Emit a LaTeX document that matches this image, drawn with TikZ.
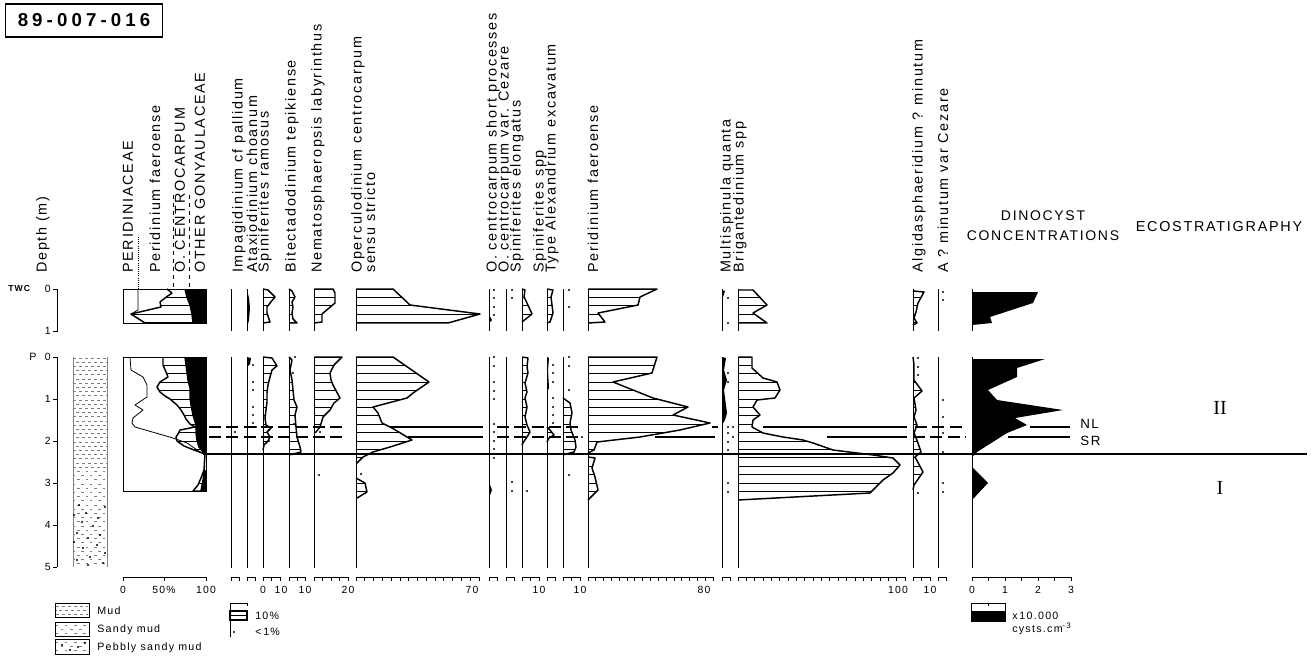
\documentclass[tikz,border=0pt]{standalone}
\usepackage{fontspec}
\setmainfont{Liberation Sans}
\newfontfamily\lab{Liberation Sans}[LetterSpace=12]
\newfontfamily\hdrfont{Liberation Sans}[LetterSpace=22]
\newfontfamily\romf{Liberation Serif}
\newcommand\hcol[2]{%
  \begin{scope}\clip #1 -- cycle;
    \foreach \k in {0,...,26} {\draw[hatch] (0,{#2+8.4*\k}) -- (1313,{#2+8.4*\k});}
  \end{scope}
  \draw[curv] #1;}
\newcommand\cystdots[1]{\foreach \px/\py in {#1} {\fill (\px,\py) circle (1.1);}}
\newcommand\xax[3]{\draw[axisl] (#1,577) -- (#2,577);
  \foreach \i in {0,...,#3} {\draw[axisl] ({#1+(#2-#1)*\i/#3},577) -- ++(0,3.5);}}
\tikzset{
  base/.style={line width=0.6pt},
  curv/.style={line width=1.1pt, line join=round},
  thinc/.style={line width=0.6pt, line join=round},
  hatch/.style={line width=0.5pt},
  axisl/.style={line width=0.6pt},
  lbl/.style={rotate=90, anchor=west, inner sep=0pt, font=\lab\fontsize{10.8}{12}\selectfont},
  num/.style={inner sep=0pt, font=\lab\fontsize{7.8}{9}\selectfont},
  txt/.style={inner sep=0pt, font=\lab\fontsize{8}{9.5}\selectfont},
  hsolid/.style={line width=1.5pt},
  hdash/.style={line width=1.5pt, dash pattern=on 9pt off 4pt},
  litho/.style={line width=0.5pt, gray},
}
\begin{document}
\begin{tikzpicture}[x=0.75pt,y=-0.75pt]
\useasboundingbox (0,0) rectangle (1313,660);
% header
\node[draw, line width=1.1pt, minimum width=118pt, minimum height=24.5pt, inner sep=0pt,
  font=\hdrfont\bfseries\fontsize{14}{16}\selectfont] (hdr) at (84,20.5) {89-007-016};
% column labels
\node[lbl] (ldepth) at (43,273) {Depth (m)};
\node[lbl] (l1) at (128,273) {PERIDINIACEAE};
\node[lbl] (l2) at (155,273) {Peridinium faeroense};
\node[lbl] (l3) at (180,273) {O. CENTROCARPUM};
\node[lbl] (l4) at (200,273) {OTHER GONYAULACEAE};
\draw[line width=0.6pt, densely dotted] (138,237) -- (138,289);
\draw[line width=0.6pt, dashed] (173,195) -- (173,289);
\draw[line width=0.6pt, dashed] (189,195) -- (189,289);
\node[lbl] (l5) at (239,273) {Impagidinium cf pallidum};
\node[lbl] (l6) at (252,273) {Ataxiodinium choanum};
\node[lbl] (l7) at (265,273) {Spiniferites ramosus};
\node[lbl] (l8) at (292,273) {Bitectadodinium tepikiense};
\node[lbl] (l9) at (318,273) {Nematosphaeropsis labyrinthus};
\node[lbl] (l10) at (358,273) {Operculodinium centrocarpum};
\node[lbl] (l10b) at (370,273) {sensu stricto};
\node[lbl] (l11) at (493,273) {O. centrocarpum short processes};
\node[lbl] (l12) at (505,273) {O. centrocarpum var. Cezare};
\node[lbl] (l13) at (517,273) {Spiniferites elongatus};
\node[lbl] (l14) at (540,273) {Spiniferites spp};
\node[lbl] (l15) at (552,273) {Type Alexandrium excavatum};
\node[lbl] (l16) at (593,273) {Peridinium faeroense};
\node[lbl] (l17) at (727,273) {Multispinula quanta};
\node[lbl] (l18) at (740,273) {Brigantedinium spp};
\node[lbl] (l19) at (919,273) {Algidasphaeridium ? minutum};
\node[lbl] (l20) at (943,273) {A ? minutum var Cezare};
\node[inner sep=0pt, align=center, font=\lab\fontsize{10.5}{15}\selectfont] (ldino) at (1043,226) {DINOCYST\\CONCENTRATIONS};
\node[inner sep=0pt, font=\lab\fontsize{10.8}{12}\selectfont] (leco) at (1219,227) {ECOSTRATIGRAPHY};
% depth axis
\node[inner sep=0pt, anchor=west, font=\lab\bfseries\fontsize{6.5}{8}\selectfont] (twc) at (8,289) {TWC};
\node[inner sep=0pt, anchor=west, font=\lab\fontsize{8}{9}\selectfont] (pp) at (29,357) {P};
\draw[axisl] (53,289) -- (57,289) -- (57,331) -- (53,331);
\node[num, anchor=east] (t0) at (51,289) {0};
\node[num, anchor=east] (t1) at (51,331) {1};
\draw[axisl] (57,357) -- (57,567);
\foreach \d in {0,...,5} {\draw[axisl] (53,{357+42*\d}) -- (57,{357+42*\d});
  \node[num, anchor=east] (pd\d) at (51,{357+42*\d}) {\d};}
% lithology
\draw[litho] (73,357) -- (73,567); \draw[litho] (107,357) -- (107,567);
\foreach \k [evaluate=\k as \ph using {mod(\k,2)*2.2}] in {0,...,26}
  {\draw[litho, dash pattern=on 2.5pt off 2pt, dash phase=\ph pt] (73,{358+4.2*\k}) -- (107,{358+4.2*\k});}
\foreach \k [evaluate=\k as \ph using {mod(\k,2)*3}] in {27,...,49}
  {\draw[litho, dash pattern=on 1.8pt off 4.5pt, dash phase=\ph pt] (73,{358+4.2*\k}) -- (107,{358+4.2*\k});}
\cystdots{79/505,105/507,86/513,74/515,98/518,82/522,93/526,77/533,100/535,88/538,74/542,97/545,83/548,105/553,90/557,77/560,103/563,88/565}
% ---- stacked percentage column ----
% TWC
\hcol{(167,289)--(172,293)--(165,298)--(160,302)--(161,307)--(131,314)--(145,323)--(193,323)--(192,314)--(190,305)--(187,297)--(185,289)}{289}
\fill (185,289)--(187,297)--(190,305)--(192,314)--(193,323)--(206,323)--(206,289)--cycle;
\draw[thinc] (138,289)--(138,310)--(131,314)--(145,323);
\draw[axisl] (123,289) rectangle (206,323);
% P
\hcol{(163,357)--(163,365)--(166,372)--(168,377)--(160,382)--(157,387)--(160,392)--(165,396)--(170,399)--(177,405)--(181,410)--(184,415)--(186,419)--(190,424)--(195,427)--(180,430)--(178,434)--(176,437)--(177,441)--(184,446)--(194,450)--(205,454)--(199,447)--(197,440)--(196,433)--(196,425)--(193,415)--(191,405)--(190,397)--(190,388)--(188,380)--(187,372)--(186,365)--(185,357)}{357}
\fill (185,357)--(186,365)--(187,372)--(188,380)--(190,388)--(190,397)--(191,405)--(193,415)--(196,425)--(196,433)--(197,440)--(199,447)--(205,454)--(206,454)--(206,357)--cycle;
\hcol{(205,454)--(204,470)--(201,478)--(198,485)--(193,491)--(201,491)--(203,480)--(205,470)}{357}
\fill (205,470)--(203,480)--(201,491)--(206,491)--(206,470)--cycle;
\draw[thinc] (130,357)--(131,370)--(143,377)--(147,385)--(147,397)--(135,405)--(143,410)--(133,418)--(132,423)--(135,427)--(173,438)--(187,443)--(200,452)--(206,454);
\draw[axisl] (123,357) rectangle (206,491);
% ---- baselines ----
\foreach \x in {231,247,263,289,314,356,489,506,522,547,563,588,722,738,913,938,972}
  {\draw[base] (\x,289) -- (\x,331); \draw[base] (\x,357) -- (\x,568);}
% Impagidinium
\cystdots{235/432}
% Ataxiodinium
\fill (247,290)--(249,298)--(250,308)--(249,320)--(247,328)--cycle;
\fill (247,357)--(251,358)--(250,364)--(247,367)--cycle;
\cystdots{253/365,253/382,253/390,253/407,253/415,253/423,256/427}
% Spiniferites ramosus
\hcol{(263,289)--(268,290)--(275,297)--(270,303)--(267,307)--(267,313)--(268,316)--(270,322)--(263,323)}{289}
\hcol{(263,357)--(272,358)--(277,366)--(272,370)--(270,377)--(268,385)--(267,393)--(267,402)--(266,410)--(265,418)--(266,425)--(271,428)--(267,432)--(270,437)--(268,441)--(264,445)--(263,450)}{357}
\cystdots{269/430,269/441}
% Bitectadodinium
\hcol{(289,289)--(292,291)--(295,297)--(292,302)--(293,307)--(292,313)--(293,319)--(297,323)--(289,323)}{289}
\hcol{(289,357)--(292,360)--(290,370)--(292,380)--(293,390)--(294,400)--(297,407)--(295,415)--(296,427)--(297,437)--(300,447)--(301,452)--(289,455)}{357}
\cystdots{295/357,293/373,294/424}
% Nematosphaeropsis
\hcol{(314,289)--(333,289)--(335,293)--(335,303)--(322,314)--(322,322)--(314,323)}{289}
\hcol{(314,357)--(342,357)--(334,365)--(330,373)--(331,380)--(333,385)--(340,398)--(334,403)--(330,410)--(323,417)--(320,427)--(316,432)--(314,433)}{357}
\cystdots{320/432,319/475}
% Operculodinium s.s.
\hcol{(356,289)--(393,289)--(410,305)--(480,314)--(448,323)--(356,323)}{289}
\hcol{(356,357)--(393,357)--(429,382)--(413,393)--(407,398)--(373,407)--(378,413)--(382,423)--(392,428)--(412,440)--(390,447)--(373,452)--(363,457)--(357,463)--(356,463)}{357}
\hcol{(356,478)--(365,483)--(367,492)--(357,498)--(356,498)}{357}
\cystdots{361/474}
% O. centrocarpum short processes
\cystdots{494/290,494/298,494/307,494/315}
\fill (489,315)--(492,320)--(489,323)--cycle;
\cystdots{494/357,494/366,494/382,494/391,494/399,494/424,494/432,494/441,494/449,494/458}
\fill (489,482)--(492,490)--(489,498)--cycle;
% var Cezare
\cystdots{512/290,512/298,512/482,512/491}
% Spiniferites elongatus
\hcol{(522,289)--(525,290)--(524,297)--(527,303)--(532,314)--(522,322)}{289}
\hcol{(522,357)--(528,358)--(527,367)--(528,373)--(525,383)--(527,392)--(525,398)--(527,407)--(525,417)--(527,425)--(530,432)--(527,437)--(523,443)--(522,445)}{357}
\cystdots{527/491}
% Spiniferites spp
\hcol{(547,289)--(553,290)--(551,297)--(552,305)--(553,313)--(550,322)--(547,323)}{289}
\fill (547,357)--(549,358)--(548,370)--(549,388)--(547,392)--cycle;
\cystdots{553/365,553/373,553/382,553/398,553/407,553/415,553/423}
\hcol{(547,427)--(550,430)--(554,435)--(549,438)--(547,442)}{357}
% Type Alexandrium excavatum
\cystdots{569/290,569/307,569/357,569/366,569/390,569/475,582/437}
\hcol{(563,398)--(570,403)--(572,413)--(570,423)--(571,430)--(575,440)--(576,447)--(574,452)--(566,454)--(563,455)}{357}
% Peridinium faeroense
\hcol{(588,289)--(657,289)--(640,297)--(638,305)--(598,313)--(605,322)--(588,323)}{289}
\hcol{(588,357)--(657,357)--(652,373)--(613,382)--(633,390)--(653,398)--(688,407)--(673,415)--(710,423)--(680,430)--(640,437)--(597,442)--(594,450)--(588,453)}{357}
\hcol{(588,457)--(595,458)--(592,468)--(595,477)--(598,490)--(588,500)}{357}
% Multispinula
\fill (722,290)--(725,291)--(723,297)--(722,300)--cycle;
\cystdots{728/298,728/323}
\fill (722,357)--(726,358)--(724,370)--(727,380)--(724,390)--(727,413)--(725,420)--(722,425)--cycle;
\cystdots{728/373,728/382,728/427,728/433,728/442,728/450,728/483,728/492,733/427,733/437}
% Brigantedinium
\hcol{(738,290)--(753,290)--(767,305)--(753,313)--(767,323)--(738,323)}{289}
\hcol{(738,357)--(752,357)--(752,368)--(763,378)--(777,382)--(780,390)--(775,398)--(757,400)--(753,407)--(760,415)--(753,420)--(752,427)--(763,433)--(783,437)--(803,440)--(813,443)--(833,450)--(873,455)--(893,458)--(900,465)--(893,473)--(883,480)--(870,493)--(738,500)}{357}
% Algidasphaeridium
\hcol{(913,291)--(924,292)--(918,303)--(916,312)--(914,318)--(917,323)--(913,325)}{289}
\hcol{(913,357)--(914,365)--(914,380)--(922,391)--(914,398)--(916,410)--(914,417)--(917,425)--(914,433)--(918,443)--(921,452)--(915,457)--(923,472)--(914,485)--(913,490)}{357}
\cystdots{918/358,918/367,918/375,918/493}
% A ? minutum var Cezare
\cystdots{943/292,943/300,943/400,943/417,943/433,943/452,943/483,943/492}
% Dinocyst concentrations
\fill (972,292)--(1038,292)--(1033,303)--(990,317)--(992,323)--(972,325)--cycle;
\fill (972,359)--(1045,359)--(1017,368)--(1017,377)--(988,390)--(997,400)--(1063,410)--(1015,418)--(1027,425)--(1007,433)--(977,452)--(972,457)--cycle;
\fill (972,467)--(988,483)--(972,500)--cycle;
% ---- horizons ----
\draw[line width=2pt] (203,454) -- (1307,454);
\draw[hdash] (209,427) -- (345,427);
\draw[hsolid] (390,427) -- (483,427);
\draw[hdash] (497,427) -- (582,427);
\draw[hsolid] (712,427) -- (718,427);
\draw[hsolid] (763,427) -- (907,427);
\draw[hdash] (915,427) -- (966,427);
\draw[hsolid] (1030,427) -- (1070,427);
\draw[hdash] (209,437) -- (345,437);
\draw[hsolid] (408,437) -- (483,437);
\draw[hdash] (497,437) -- (583,437);
\draw[hsolid] (655,437) -- (715,437);
\draw[hsolid] (827,437) -- (907,437);
\draw[hdash] (913,437) -- (966,437);
\draw[hsolid] (1008,437) -- (1070,437);
\node[inner sep=0pt, anchor=west, font=\lab\fontsize{10}{12}\selectfont] (nl) at (1080,424) {NL};
\node[inner sep=0pt, anchor=west, font=\lab\fontsize{10}{12}\selectfont] (sr) at (1080,441) {SR};
\node[inner sep=0pt, font=\romf\fontsize{15}{16}\selectfont] (z2) at (1220,408) {II};
\node[inner sep=0pt, font=\romf\fontsize{15}{16}\selectfont] (z1) at (1220,488) {I};
% ---- bottom axes ----
\xax{123}{206}{2}
\xax{231}{239}{1}
\xax{247}{255}{1}
\xax{263}{280}{2}
\xax{289}{305}{2}
\xax{314}{348}{4}
\xax{356}{479}{14}
\xax{489}{497}{1}
\xax{506}{514}{1}
\xax{522}{539}{2}
\xax{547}{555}{1}
\xax{563}{580}{2}
\xax{588}{713}{16}
\xax{722}{730}{1}
\xax{738}{905}{20}
\xax{913}{930}{2}
\xax{938}{946}{1}
\xax{972}{1071}{6}
\node[num] (a1) at (123,590) {0};
\node[num] (a2) at (164,590) {50\%};
\node[num] (a3) at (206,590) {100};
\node[num] (a4) at (263,590) {0};
\node[num] (a5) at (281,590) {10};
\node[num] (a6) at (305,590) {10};
\node[num] (a7) at (348,590) {20};
\node[num] (a8) at (472,590) {70};
\node[num] (a9) at (539,590) {10};
\node[num] (a10) at (580,590) {10};
\node[num] (a11) at (704,590) {80};
\node[num] (a12) at (898,590) {100};
\node[num] (a13) at (930,590) {10};
\node[num] (a14) at (972,590) {0};
\node[num] (a15) at (1005,590) {1};
\node[num] (a16) at (1038,590) {2};
\node[num] (a17) at (1071,590) {3};
% ---- legends ----
\draw[axisl] (55,603) rectangle (89,617);
\foreach \k [evaluate=\k as \ph using {mod(\k,2)*2.2}] in {0,1,2}
  {\draw[litho, dash pattern=on 2.5pt off 2pt, dash phase=\ph pt] (56,{606+4*\k}) -- (88,{606+4*\k});}
\draw[axisl] (55,622) rectangle (89,636);
\foreach \k [evaluate=\k as \ph using {mod(\k,2)*3}] in {0,1,2}
  {\draw[litho, dash pattern=on 1.8pt off 5pt, dash phase=\ph pt] (56,{625+4*\k}) -- (88,{625+4*\k});}
\draw[axisl] (55,639) rectangle (89,654);
\foreach \k [evaluate=\k as \ph using {mod(\k,2)*3}] in {0,1,2}
  {\draw[litho, dash pattern=on 1.8pt off 5pt, dash phase=\ph pt] (56,{642+4*\k}) -- (88,{642+4*\k});}
\cystdots{62/645,78/647,70/650,85/643}
\node[txt, anchor=west] (lg1) at (97,611) {Mud};
\node[txt, anchor=west] (lg2) at (97,630) {Sandy mud};
\node[txt, anchor=west] (lg3) at (97,648) {Pebbly sandy mud};
\draw[axisl] (247,606) -- (247,603) -- (230,603) -- (230,637);
\draw[line width=0.9pt] (230,611) rectangle (247,620);
\draw[line width=0.9pt] (230,615.5) -- (247,615.5);
\cystdots{234/632}
\node[txt, anchor=west] (lg4) at (255,616) {10\%};
\node[txt, anchor=west] (lg5) at (255,632) {<\,1\%};
\draw[axisl] (971,603) rectangle (1005,621);
\fill (971,611) rectangle (1005,621);
\draw[axisl] (988,603) -- (988,606);
\node[txt, anchor=west] (lg6) at (1012,616) {x\,10.000};
\node[txt, anchor=west] (lg7) at (1012,629) {cysts.cm\textsuperscript{-3}};
\end{tikzpicture}
\end{document}
